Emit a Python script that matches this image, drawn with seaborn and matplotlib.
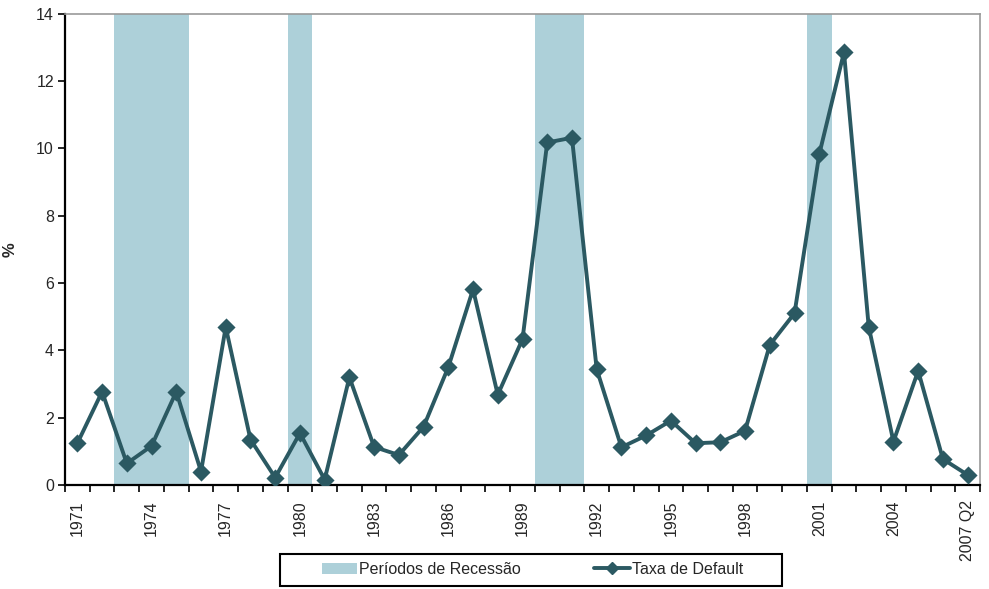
import matplotlib
matplotlib.use("Agg")
import matplotlib.pyplot as plt
import seaborn as sns
import numpy as np
import pandas as pd
from matplotlib.patches import Patch, Rectangle
from matplotlib.lines import Line2D
from matplotlib.ticker import FixedLocator

years = [str(y) for y in range(1971, 2007)] + ["2007 Q2"]
default_rate = [1.24, 2.77, 0.64, 1.16, 2.77, 0.40, 4.69, 1.35, 0.22, 1.54,
                0.16, 3.20, 1.13, 0.89, 1.73, 3.50, 5.81, 2.68, 4.33, 10.17,
                10.31, 3.44, 1.12, 1.47, 1.91, 1.24, 1.27, 1.61, 4.16, 5.10,
                9.82, 12.85, 4.70, 1.29, 3.39, 0.77, 0.30]
recession_years = ["1973", "1974", "1975", "1980", "1990", "1991", "2001"]
recession_top = 14
tick_labels = years[::3]

band_color = "#ADD0D9"
line_color = "#2B5962"

df = pd.DataFrame({
    "ano": years,
    "taxa": default_rate,
    "recessao": [recession_top if y in recession_years else 0 for y in years],
})

sns.set_style("white")
plt.rcParams["font.family"] = ["Liberation Sans", "DejaVu Sans"]

fig = plt.figure(figsize=(9.89, 5.89), dpi=100)
ax = fig.add_axes([65/989, 1-485/589, (980-65)/989, (485-13.5)/589])

sns.barplot(data=df, x="ano", y="recessao", color=band_color, width=1.0,
            saturation=1, linewidth=0, edgecolor=band_color, ax=ax, zorder=1)
sns.pointplot(data=df, x="ano", y="taxa", color=line_color, markers="D",
              markersize=7.5, linewidth=2.8, ax=ax, zorder=3)

ax.set_xlim(-0.5, len(years) - 0.5)
ax.set_ylim(0, 14)
ax.set_yticks(range(0, 15, 2))
ax.set_yticklabels([str(v) for v in range(0, 15, 2)], fontsize=11.5)

label_pos = list(range(0, len(years), 3))
ax.set_xticks(label_pos)
ax.set_xticklabels(tick_labels, rotation=90, fontsize=11.5)
ax.xaxis.set_minor_locator(FixedLocator(np.arange(-0.5, len(years), 1.0)))
ax.tick_params(axis="x", which="major", length=0, pad=11)
ax.tick_params(axis="x", which="minor", length=5, width=1.2, color="black",
               direction="out", bottom=True)
ax.tick_params(axis="y", which="major", length=5, width=1.2, color="black",
               direction="out", left=True, pad=3)

ax.set_xlabel("")
ax.set_ylabel("%", fontsize=12, fontweight="bold")
ax.yaxis.set_label_coords((18 - 65) / 915, 0.5)

for side in ["left", "bottom"]:
    ax.spines[side].set_color("black")
    ax.spines[side].set_linewidth(1.6)
for side in ["top", "right"]:
    ax.spines[side].set_color("#999999")
    ax.spines[side].set_linewidth(1.2)
    ax.spines[side].set_visible(True)

handles = [
    Patch(facecolor=band_color, edgecolor="none", label="Períodos de Recessão"),
    Line2D([0], [0], color=line_color, lw=2.8, marker="D", markersize=6,
           label="Taxa de Default"),
]
leg = fig.legend(handles=handles, loc="center",
                 bbox_to_anchor=(532.5/989, 1 - 569.5/589), ncol=2, fontsize=11.5,
                 frameon=False, handlelength=2.2, handleheight=0.75,
                 columnspacing=4.6, handletextpad=0.15,
                 borderpad=0.3, borderaxespad=0)
fig.patches.append(Rectangle((280/989, 1 - 586/589), (782-280)/989, (586-554)/589,
                             transform=fig.transFigure, facecolor="none",
                             edgecolor="black", linewidth=1.5))

fig.savefig("out.png", dpi=100)
